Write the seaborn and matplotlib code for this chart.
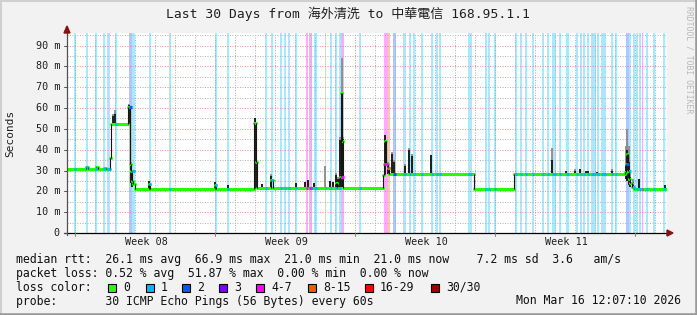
import numpy as np
import pandas as pd
import matplotlib
matplotlib.use("Agg")
import matplotlib.pyplot as plt
from matplotlib.patches import Rectangle, Polygon
from matplotlib.lines import Line2D
import seaborn as sns

sns.set_style("white")
plt.rcParams["font.family"] = ["DejaVu Sans Mono", "Noto Sans CJK TC", "DejaVu Sans"]

# ---------------- data (time in days since start of the 30-day window) ----------------
med_t = [0.00, 0.95, 1.05, 1.45, 1.55, 1.85, 1.95, 2.15, 2.20, 3.05, 3.125, 3.20, 3.25, 3.30,
         3.40, 4.10, 4.15, 7.40, 7.45, 9.35, 9.425, 9.50, 10.20, 10.275, 12.55, 13.45, 13.50,
         13.65, 13.70, 13.75, 13.80, 15.80, 15.85, 15.90, 15.95, 16.05, 16.10, 20.35, 22.35,
         27.90, 27.95, 28.00, 28.05, 28.10, 28.15, 28.25, 28.35, 29.95]
med_v = [30.8, 31.5, 30.8, 31.8, 30.8, 31.3, 30.8, 36.0, 52.4, 60.5, 33.0, 30.0, 25.0, 23.5,
         21.3, 23.5, 21.3, 23.0, 21.3, 53.0, 34.0, 21.5, 25.5, 21.5, 21.8, 24.0, 21.8,
         27.0, 67.0, 44.0, 21.8, 28.0, 33.0, 44.0, 33.0, 31.0, 28.3, 21.0, 28.3,
         29.5, 33.0, 38.0, 30.0, 26.0, 24.0, 22.0, 21.0, 21.0]

sp_t = [2.30, 2.40, 3.10, 3.175, 3.25, 4.10, 7.40, 8.05, 9.375, 9.475, 9.75, 10.175, 11.425,
        11.90, 12.05, 12.325, 12.90, 13.15, 13.30, 13.425, 13.55, 13.65, 13.725, 13.775,
        15.90, 16.025, 16.25, 16.35, 16.90, 17.075, 17.25, 18.20, 24.25, 24.95, 25.40, 25.65,
        25.95, 26.05, 26.50, 27.25, 27.925, 28.00, 28.075, 28.15, 28.30, 28.60, 29.875]
sp_lo = [52.4, 52.4, 52.4, 24.0, 22.0, 21.3, 21.3, 21.3, 21.3, 21.5, 21.5, 21.5, 21.5,
         21.5, 21.5, 21.5, 21.8, 21.8, 21.8, 21.8, 21.8, 21.8, 22.0, 22.0,
         28.0, 28.3, 28.3, 28.3, 28.3, 28.3, 28.3, 28.3, 28.3, 28.3, 28.3, 28.3,
         28.3, 28.3, 28.3, 28.3, 26.0, 25.0, 23.0, 22.0, 21.0, 21.0, 21.0]
sp_hi = [56.0, 57.0, 61.5, 33.0, 29.5, 25.0, 24.5, 23.0, 55.0, 34.0, 23.5, 27.5, 24.0,
         24.5, 25.5, 24.0, 22.0, 25.0, 24.5, 28.0, 26.0, 44.5, 67.0, 45.0,
         47.0, 33.0, 38.0, 34.0, 32.0, 40.0, 37.0, 37.5, 35.0, 30.0, 30.0, 30.5,
         30.0, 30.0, 29.5, 30.0, 33.0, 40.0, 34.0, 27.0, 24.5, 26.0, 23.0]
sp_smoke = [57.0, 59.0, 62.0, 34.0, 30.0, 25.0, 24.5, 23.0, 55.0, 34.0, 23.5, 28.5, 24.0,
            24.5, 25.5, 24.0, 32.0, 25.0, 24.5, 29.0, 27.0, 46.0, 84.0, 46.0,
            47.0, 34.0, 39.0, 35.0, 33.0, 41.0, 38.0, 37.5, 41.0, 30.0, 30.5, 30.5,
            30.0, 30.0, 29.5, 30.5, 42.0, 50.0, 42.0, 30.0, 26.0, 26.0, 23.0]

band_start = [0.35, 0.95, 1.40, 1.80, 2.00, 2.40, 3.10, 3.225, 4.10, 5.10, 7.40, 8.00, 9.90,
              10.20, 10.65, 10.85, 11.05, 11.40, 11.95, 12.10, 12.175, 12.35, 12.90, 13.15,
              13.375, 13.575, 13.675, 14.60, 15.85, 16.05, 16.30, 16.80, 17.10, 17.30, 17.70,
              18.20, 18.45, 18.60, 20.05, 20.90, 21.05, 21.35, 22.40, 22.65, 22.90, 23.25,
              23.75, 24.00, 24.25, 24.60, 24.95, 25.45, 25.65, 25.80, 26.00, 26.20, 26.50,
              26.70, 27.20, 27.40, 27.95, 28.075, 28.30, 28.45, 28.60, 28.725, 28.95, 29.30,
              29.80]
band_end = [0.425, 1.025, 1.475, 1.875, 2.15, 2.50, 3.225, 3.40, 4.175, 5.175, 7.50, 8.075,
            9.975, 10.275, 10.725, 10.925, 11.125, 11.50, 12.025, 12.175, 12.25, 12.475,
            12.95, 13.25, 13.475, 13.675, 13.825, 14.70, 16.05, 16.15, 16.425, 16.925,
            17.175, 17.375, 17.775, 18.275, 18.525, 18.675, 20.225, 20.975, 21.125, 21.425,
            22.475, 22.725, 23.00, 23.325, 23.825, 24.075, 24.425, 24.70, 25.10, 25.55,
            25.725, 25.90, 26.10, 26.425, 26.60, 26.95, 27.275, 27.475, 28.075, 28.20,
            28.40, 28.525, 28.675, 28.80, 29.025, 29.40, 29.90]
band_loss = [1, 1, 1, 1, 1, 1, 2, 1, 1, 1, 1, 1, 1,
             1, 1, 1, 1, 1, 4, 4, 2, 1, 1, 1,
             1, 1, 4, 1, 4, 5, 2, 1, 1, 1, 1,
             1, 1, 1, 1, 1, 1, 1, 1, 1, 1, 1,
             1, 1, 1, 1, 1, 1, 1, 1, 1, 1, 1,
             1, 1, 1, 2, 1, 1, 1, 1, 4, 1, 1,
             1]

loss_labels = ["0", "1", "2", "3", "4-7", "8-15", "16-29", "30/30"]
loss_colors = ["#26ff00", "#00b8ff", "#0059ff", "#7e00ff", "#ff00ff", "#ff5500", "#ff0000", "#a10000"]

week_labels = ["Week 08", "Week 09", "Week 10", "Week 11"]
week_centers = [3.95, 10.95, 17.95, 24.95]
week_bounds = [0.4, 7.4, 14.4, 21.4, 28.4]
ytick_vals = [0, 10, 20, 30, 40, 50, 60, 70, 80, 90]
ytick_text = ["0", "10 m", "20 m", "30 m", "40 m", "50 m", "60 m", "70 m", "80 m", "90 m"]

title = "Last 30 Days from 海外清洗 to 中華電信 168.95.1.1"
stat_lines = [
    "median rtt:  26.1 ms avg  66.9 ms max  21.0 ms min  21.0 ms now    7.2 ms sd  3.6   am/s",
    "packet loss: 0.52 % avg  51.87 % max  0.00 % min  0.00 % now",
    "loss color:",
    "probe:       30 ICMP Echo Pings (56 Bytes) every 60s",
]
stamp = "Mon Mar 16 12:07:10 2026"

# ---------------- figure ----------------
W, H = 697, 315
fig = plt.figure(figsize=(W / 100, H / 100), dpi=100, facecolor="#f2f2f2")
ax = fig.add_axes([67 / W, 1 - 233 / H, 600 / W, 200 / H])
ax.set_facecolor("white")
ax.set_xlim(0, 30)
ax.set_ylim(0, 96)
for s in ax.spines.values():
    s.set_visible(False)
ax.set_xticks([])
ax.set_yticks([])

# loss background bands
for s0, e0, c in zip(band_start, band_end, band_loss):
    ax.axvspan(s0, e0, color=loss_colors[c], alpha=0.33, lw=0, zorder=1)

# grid
for d in range(30):
    x = 0.4 + d
    if any(abs(x - wb) < 1e-6 for wb in week_bounds):
        continue
    ax.axvline(x, color="#b4b4b4", lw=0.72, dashes=(1, 1.5), zorder=2)
for wb in week_bounds:
    ax.axvline(wb, color="#e08080", lw=0.72, dashes=(1, 1.5), zorder=2, alpha=0.8)
for y in range(5, 96, 10):
    ax.axhline(y, color="#b4b4b4", lw=0.72, dashes=(1, 1.5), zorder=2)
for y in range(10, 91, 10):
    ax.axhline(y, color="#e08080", lw=0.72, dashes=(1, 1.5), zorder=2, alpha=0.8)

# smoke / spikes
ax.vlines(sp_t, sp_lo, sp_smoke, color="#8a8a8a", lw=1.3, zorder=3)
ax.vlines(sp_t, sp_lo, sp_hi, color="#151515", lw=1.3, zorder=4)

# median line (horizontal steps) via seaborn
seg_rows = []
for i in range(len(med_t) - 1):
    seg_rows.append({"t": med_t[i], "v": med_v[i], "seg": i})
    seg_rows.append({"t": med_t[i + 1], "v": med_v[i], "seg": i})
med_df = pd.DataFrame(seg_rows)
sns.lineplot(data=med_df, x="t", y="v", units="seg", estimator=None, sort=False,
             color="#22ff00", lw=2.2, legend=False, ax=ax, zorder=5)
# transitions drawn as thin dark lines
ax.vlines(med_t[1:-1], med_v[:-2], med_v[1:-1], color="#151515", lw=0.8, zorder=5)

# loss-coloured marks on median
mt = np.array(med_t)
for s0, e0, c in zip(band_start, band_end, band_loss):
    idx = max(np.searchsorted(mt, s0, side="right") - 1, 0)
    ax.plot([s0, e0], [med_v[idx], med_v[idx]], color=loss_colors[c], lw=2.2,
            solid_capstyle="butt", zorder=6)

ax.set_xlabel("")
ax.set_ylabel("")

# axes lines + arrows (data units: 20 px/day, 2.083 px/ms)
px_d = 1 / 20.0
px_v = 96 / 200.0
ax.plot([-3 * px_d, 30.0], [0, 0], color="black", lw=0.9, clip_on=False, zorder=7)
ax.plot([0, 0], [-2 * px_v, 96.5], color="#505050", lw=0.9, clip_on=False, zorder=7)
ax.add_patch(Polygon([[30.0, -3 * px_v], [30.0 + 6 * px_d, 0], [30.0, 3 * px_v]],
                     closed=True, color="#8b1010", clip_on=False, zorder=8))
ax.add_patch(Polygon([[-3 * px_d, 96.0], [0, 96.0 + 7 * px_v], [3 * px_d, 96.0]],
                     closed=True, color="#8b1010", clip_on=False, zorder=8))

# ticks
for v in ytick_vals:
    ax.plot([-3 * px_d, 0], [v, v], color="#505050", lw=0.7, clip_on=False, zorder=7)
for wb in week_bounds:
    ax.plot([wb, wb], [0, -3 * px_v], color="#d06060", lw=0.7, clip_on=False, zorder=7)

for v, t in zip(ytick_vals, ytick_text):
    ax.text(-7 * px_d, v, t, ha="right", va="center", fontsize=7.3, color="#202020")
for c, t in zip(week_centers, week_labels):
    ax.text(c, -9 * px_v, t, ha="center", va="center", fontsize=7.3, color="#202020")

# titles
fig.text(348 / W, 1 - 14 / H, title, ha="center", va="center", fontsize=9.4, color="#202020")
fig.text(10 / W, 1 - 133 / H, "Seconds", rotation=90, ha="center", va="center",
         fontsize=8.0, color="#202020")
fig.text(689 / W, 1 - 6 / H, "RRDTOOL / TOBI OETIKER", rotation=270, ha="center", va="top",
         fontsize=5.9, color="#b8b8b8")

# statistics text
row_y = [259.5, 273.5, 287.5, 301.0]
for ln, ry in zip(stat_lines, row_y):
    fig.text(16 / W, 1 - ry / H, ln, ha="left", va="center", fontsize=8.3, color="#101010")
fig.text(681 / W, 1 - row_y[3] / H, stamp, ha="right", va="center", fontsize=8.3, color="#101010")

sq_left = [108, 146, 182, 219, 256, 308, 365, 431]
for xl, col, lab in zip(sq_left, loss_colors, loss_labels):
    fig.add_artist(Rectangle((xl / W, 1 - (row_y[2] + 4.5) / H), 8 / W, 8 / H,
                             facecolor=col, edgecolor="black", lw=0.8, transform=fig.transFigure))
    fig.text((xl + 15) / W, 1 - row_y[2] / H, lab, ha="left", va="center", fontsize=8.3,
             color="#101010")

# 3-D frame
fig.add_artist(Line2D([0, 0], [0, 1], transform=fig.transFigure, color="#d0d0d0", lw=2.2))
fig.add_artist(Line2D([0, 1], [1, 1], transform=fig.transFigure, color="#d0d0d0", lw=2.2))
fig.add_artist(Line2D([1, 1], [0, 1], transform=fig.transFigure, color="#9a9a9a", lw=2.6))
fig.add_artist(Line2D([0, 1], [0, 0], transform=fig.transFigure, color="#9a9a9a", lw=2.6))

fig.savefig("out.png", dpi=100, facecolor=fig.get_facecolor())
